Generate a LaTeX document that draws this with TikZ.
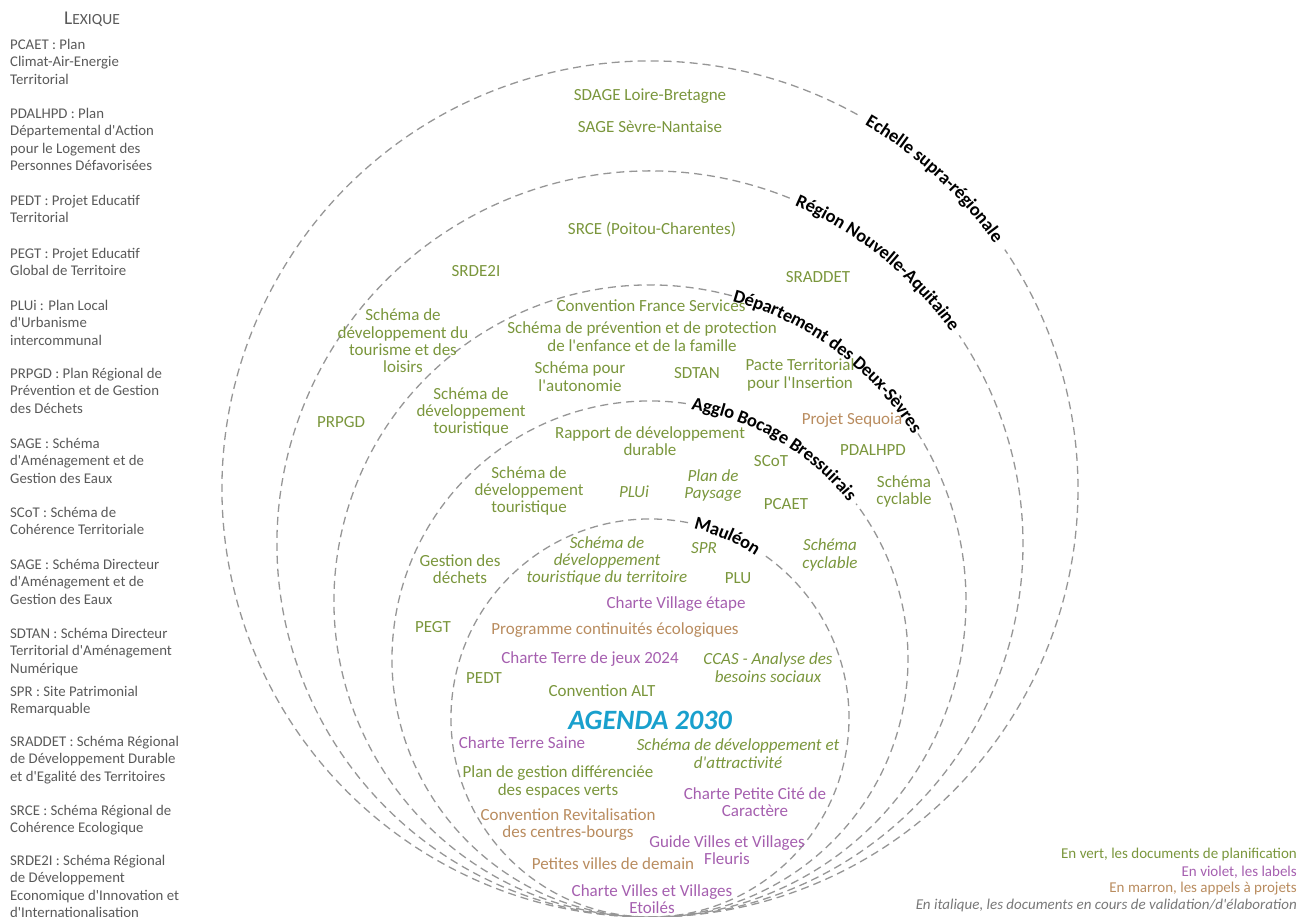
\documentclass[tikz,border=0pt]{standalone}
\usepackage{fontspec}
\setmainfont{Carlito}[Ligatures=TeXOff]
\usepackage{xcolor}
\usepackage{tikz}
\usetikzlibrary{decorations.text}

\definecolor{planvert}{RGB}{122,150,60}
\definecolor{labelviolet}{RGB}{165,95,175}
\definecolor{appelmarron}{RGB}{185,140,95}
\definecolor{agendableu}{RGB}{25,160,205}
\definecolor{cerclegris}{RGB}{150,150,150}
\definecolor{lexgris}{RGB}{89,89,89}
\definecolor{legendgris}{RGB}{120,120,120}

\newcommand{\lblfont}{\fontsize{17}{17.4}\selectfont}
\newcommand{\titlefont}{\fontsize{18.5}{20}\selectfont\bfseries}
\newcommand{\lexfont}{\fontsize{14.8}{17.4}\selectfont}
\newcommand{\legfont}{\fontsize{15}{17}\selectfont}

\tikzset{
  ring/.style={draw=cerclegris, line width=1.3pt, dash pattern=on 8pt off 5pt},
  plan/.style={text=planvert, font=\lblfont, align=center, inner sep=0pt},
  labeldoc/.style={plan, text=labelviolet},
  appel/.style={plan, text=appelmarron},
  encours/.style={font=\lblfont\itshape},
  lexentry/.style={anchor=north west, align=left, text=lexgris, font=\lexfont, inner sep=0pt},
  legende/.style={anchor=east, font=\legfont, inner sep=0pt},
  titlealong/.style={decorate, decoration={text along path, text align=center, raise=-5pt, text={|\titlefont|#1}}}
}

\begin{document}
\begin{tikzpicture}[x=1pt, y=1pt]
  \useasboundingbox (0,0) rectangle (1300,917);
  \clip (0,0) rectangle (1300,917);

  % echelles
  \draw[ring] (650,428) ++(61:428) arc[start angle=61, end angle=394, radius=428];
  \draw[ring] (650,373) ++(68:373) arc[start angle=68, end angle=394, radius=373];
  \draw[ring] (650,316) ++(75:316) arc[start angle=75, end angle=392, radius=316];
  \draw[ring] (650,258) ++(82:258) arc[start angle=82, end angle=397, radius=258];
  \draw[ring] (650,199) ++(79:199) arc[start angle=79, end angle=415, radius=199];

  \path[titlealong={Echelle supra-régionale}] (650,428) ++(80:428) arc[start angle=80, end angle=15, radius=428];
  \path[titlealong={Région Nouvelle-Aquitaine}] (650,373) ++(83.5:373) arc[start angle=83.5, end angle=18.5, radius=373];
  \path[titlealong={Département des Deux-Sèvres}] (650,316) ++(86:316) arc[start angle=86, end angle=21, radius=316];
  \path[titlealong={Agglo Bocage Bressuirais}] (650,258) ++(92:258) arc[start angle=92, end angle=27, radius=258];
  \path[titlealong={Mauléon}] (650,199) ++(99.5:199) arc[start angle=99.5, end angle=34.5, radius=199];

  % supra-regional
  \node[plan] (sdage) at (650,821) {SDAGE Loire-Bretagne};
  \node[plan] (sage) at (650,790) {SAGE Sèvre-Nantaise};

  % region
  \node[plan] (srce) at (652,688) {SRCE (Poitou-Charentes)};
  \node[plan] (srde) at (476,646) {SRDE2I};
  \node[plan] (sraddet) at (818,640) {SRADDET};
  \node[plan] (tourloisirs) at (403,576) {Schéma de\\développement du\\tourisme et des\\loisirs};
  \node[plan] (prpgd) at (341,495) {PRPGD};

  % departement
  \node[plan] (france) at (651,611) {Convention France Services};
  \node[plan] (enfance) at (642,580.5) {Schéma de prévention et de protection\\de l'enfance et de la famille};
  \node[plan] (autonomie) at (580,540.5) {Schéma pour\\l'autonomie};
  \node[plan] (sdtan) at (697,544) {SDTAN};
  \node[plan] (insertion) at (800,542) {Pacte Territorial\\pour l'Insertion};
  \node[plan] (tourdep) at (471,505) {Schéma de\\développement\\touristique};
  \node[appel] (sequoia) at (852,497) {Projet Sequoia};
  \node[plan] (pdalhpd) at (873,467) {PDALHPD};
  \node[plan] (cyclable) at (904,425.5) {Schéma\\cyclable};

  % agglo
  \node[plan] (rapport) at (650,476) {Rapport de développement\\durable};
  \node[plan] (touragglo) at (529,426) {Schéma de\\développement\\touristique};
  \node[plan, encours] (plui) at (634,425) {PLUi};
  \node[plan, encours] (paysage) at (713,431.5) {Plan de\\Paysage};
  \node[plan] (scot) at (771,456) {SCoT};
  \node[plan] (pcaet) at (786,413) {PCAET};
  \node[plan] (dechets) at (460,348) {Gestion des\\déchets};
  \node[plan] (pegt) at (433,290) {PEGT};
  \node[plan] (pedt) at (484,239) {PEDT};
  \node[plan, encours] (cyclit) at (830,362) {Schéma\\cyclable};

  % mauleon
  \node[plan, encours] (tourterr) at (607,356) {Schéma de\\développement\\touristique du territoire};
  \node[plan, encours] (spr) at (704,369) {SPR};
  \node[plan] (plu) at (738,339) {PLU};
  \node[labeldoc] (village) at (676,313) {Charte Village étape};
  \node[appel] (continuites) at (615,287) {Programme continuités écologiques};
  \node[labeldoc] (jeux) at (590,258) {Charte Terre de jeux 2024};
  \node[plan, encours] (ccas) at (768,249.5) {CCAS - Analyse des\\besoins sociaux};
  \node[plan] (alt) at (602,226) {Convention ALT};
  \node[text=agendableu, font=\fontsize{28}{30}\selectfont\bfseries\itshape, inner sep=0pt] (agenda) at (650,197) {AGENDA 2030};
  \node[labeldoc] (terresaine) at (522,174) {Charte Terre Saine};
  \node[plan, encours] (attract) at (738,163.5) {Schéma de développement et\\d'attractivité};
  \node[plan] (espaces) at (558,135) {Plan de gestion différenciée\\des espaces verts};
  \node[labeldoc] (caractere) at (755,115) {Charte Petite Cité de\\Caractère};
  \node[appel] (bourgs) at (568,92.5) {Convention Revitalisation\\des centres-bourgs};
  \node[labeldoc] (fleuris) at (727,67) {Guide Villes et Villages\\Fleuris};
  \node[appel] (demain) at (613,53) {Petites villes de demain};
  \node[labeldoc] (etoiles) at (652,18) {Charte Villes et Villages\\Etoilés};

  % lexique
  \node[text=lexgris, inner sep=0pt] (lexique) at (92,898) {{\fontsize{19.5}{20}\selectfont L}{\fontsize{15.5}{20}\selectfont EXIQUE}};
  \node[lexentry] (lexpcaet) at (10,878) {PCAET : Plan\\Climat-Air-Energie\\Territorial};
  \node[lexentry] (lexpdalhpd) at (10,809) {PDALHPD : Plan\\Départemental d'Action\\pour le Logement des\\Personnes Défavorisées};
  \node[lexentry] (lexpedt) at (10,722) {PEDT : Projet Educatif\\Territorial};
  \node[lexentry] (lexpegt) at (10,669) {PEGT : Projet Educatif\\Global de Territoire};
  \node[lexentry] (lexplui) at (10,617) {PLUi : Plan Local\\d'Urbanisme\\intercommunal};
  \node[lexentry] (lexprpgd) at (10,549) {PRPGD : Plan Régional de\\Prévention et de Gestion\\des Déchets};
  \node[lexentry] (lexsage) at (10,479) {SAGE : Schéma\\d'Aménagement et de\\Gestion des Eaux};
  \node[lexentry] (lexscot) at (10,410) {SCoT : Schéma de\\Cohérence Territoriale};
  \node[lexentry] (lexsdage) at (10,358) {SAGE : Schéma Directeur\\d'Aménagement et de\\Gestion des Eaux};
  \node[lexentry] (lexsdtan) at (10,289) {SDTAN : Schéma Directeur\\Territorial d'Aménagement\\Numérique};
  \node[lexentry] (lexspr) at (10,231) {SPR : Site Patrimonial\\Remarquable};
  \node[lexentry] (lexsraddet) at (10,181) {SRADDET : Schéma Régional\\de Développement Durable\\et d'Egalité des Territoires};
  \node[lexentry] (lexsrce) at (10,112) {SRCE : Schéma Régional de\\Cohérence Ecologique};
  \node[lexentry] (lexsrde) at (10,62) {SRDE2I : Schéma Régional\\de Développement\\Economique d'Innovation et\\d'Internationalisation};

  % legende
  \node[legende, text=planvert] (legvert) at (1297,62) {En vert, les documents de planification};
  \node[legende, text=labelviolet] (legviolet) at (1297,45) {En violet, les labels};
  \node[legende, text=appelmarron] (legmarron) at (1297,28) {En marron, les appels à projets};
  \node[legende, text=legendgris, font=\legfont\itshape] (legitalique) at (1297,11) {En italique, les documents en cours de validation/d'élaboration};
\end{tikzpicture}
\end{document}
